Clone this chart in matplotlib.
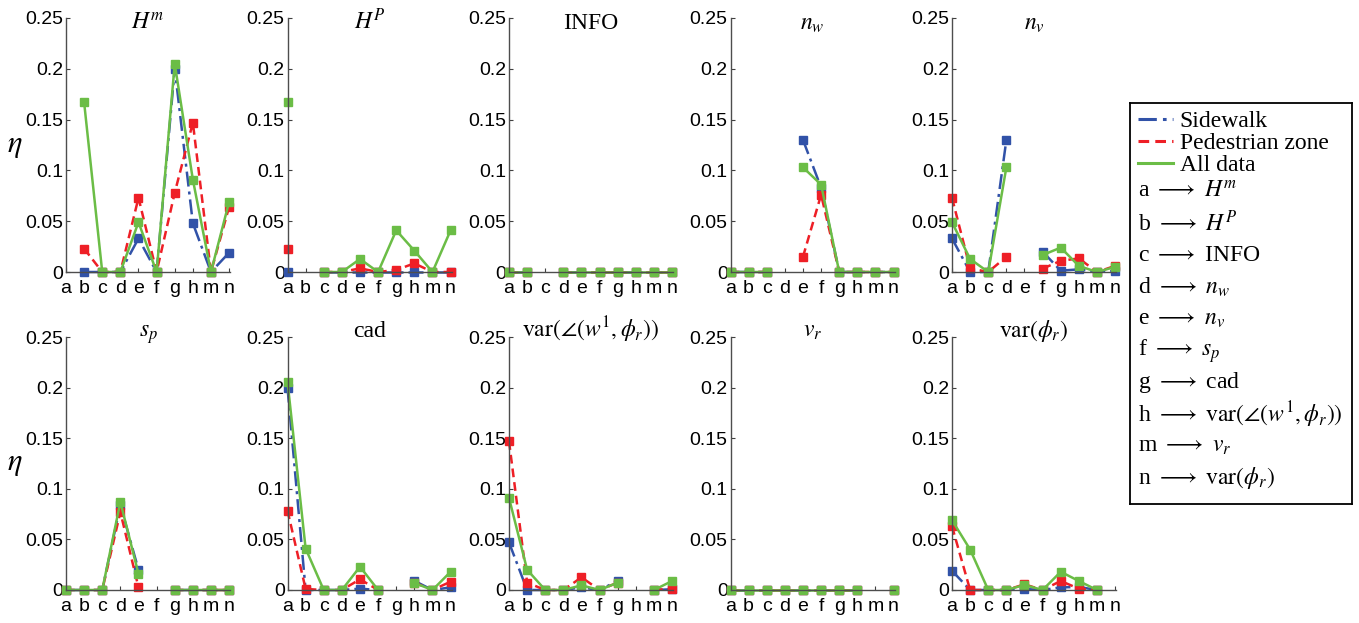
import numpy as np
import matplotlib
matplotlib.use('Agg')
import matplotlib.pyplot as plt
from matplotlib.lines import Line2D
from matplotlib.ticker import FixedLocator, FixedFormatter

plt.rcParams['font.family'] = ['Liberation Sans', 'DejaVu Sans']
plt.rcParams['mathtext.fontset'] = 'stix'

# categories (x axis) and the feature each panel is about
cats = ['a', 'b', 'c', 'd', 'e', 'f', 'g', 'h', 'm', 'n']
titles = [r'$H^m$', r'$H^P$', 'INFO', r'$n_w$', r'$n_v$',
          r'$s_p$', 'cad', r'$\mathrm{var}(\angle(w^1,\phi_r))$', r'$v_r$',
          r'$\mathrm{var}(\phi_r)$']
map_labels = [c + ' $\\longrightarrow$ ' + t for c, t in zip(cats, titles)]

nan = np.nan
# eta values, one row per panel (nan = the panel's own feature)
sidewalk = [
    [nan, 0, 0, 0, 0.033, 0, 0.200, 0.048, 0, 0.019],
    [0, nan, 0, 0, 0, 0, 0, 0, 0, 0],
    [0, 0, nan, 0, 0, 0, 0, 0, 0, 0],
    [0, 0, 0, nan, 0.130, 0.083, 0, 0, 0, 0],
    [0.033, 0, 0, 0.130, nan, 0.020, 0.0013, 0.0026, 0, 0.001],
    [0, 0, 0, 0.084, 0.020, nan, 0, 0, 0, 0],
    [0.200, 0, 0, 0, 0.0013, 0, nan, 0.009, 0, 0.0026],
    [0.047, 0, 0, 0, 0.0026, 0, 0.009, nan, 0, 0.0007],
    [0, 0, 0, 0, 0, 0, 0, 0, nan, 0],
    [0.019, 0, 0, 0, 0.001, 0, 0.0026, 0.003, 0, nan],
]
pedestrian = [
    [nan, 0.023, 0, 0, 0.073, 0, 0.078, 0.147, 0, 0.064],
    [0.023, nan, 0, 0, 0.0036, 0, 0.002, 0.0085, 0, 0],
    [0, 0, nan, 0, 0, 0, 0, 0, 0, 0],
    [0, 0, 0, nan, 0.015, 0.076, 0, 0, 0, 0],
    [0.073, 0.0036, 0, 0.015, nan, 0.0033, 0.011, 0.0134, 0, 0.006],
    [0, 0, 0, 0.077, 0.0026, nan, 0, 0, 0, 0],
    [0.0785, 0.001, 0, 0, 0.0106, 0, nan, 0.0073, 0, 0.0082],
    [0.147, 0.0073, 0, 0, 0.0125, 0, 0.0073, nan, 0, 0.0013],
    [0, 0, 0, 0, 0, 0, 0, 0, nan, 0],
    [0.063, 0, 0, 0, 0.0056, 0, 0.0089, 0.0013, 0, nan],
]
all_data = [
    [nan, 0.167, 0, 0, 0.049, 0, 0.205, 0.091, 0, 0.069],
    [0.167, nan, 0, 0, 0.0128, 0, 0.041, 0.021, 0, 0.041],
    [0, 0, nan, 0, 0, 0, 0, 0, 0, 0],
    [0, 0, 0, nan, 0.103, 0.086, 0, 0, 0, 0],
    [0.049, 0.0128, 0, 0.103, nan, 0.0167, 0.024, 0.006, 0, 0.005],
    [0, 0, 0, 0.087, 0.016, nan, 0, 0, 0, 0],
    [0.206, 0.041, 0, 0, 0.023, 0, nan, 0.007, 0, 0.018],
    [0.091, 0.020, 0, 0, 0.0046, 0, 0.0073, nan, 0, 0.0089],
    [0, 0, 0, 0, 0, 0, 0, 0, nan, 0],
    [0.069, 0.040, 0, 0, 0.005, 0, 0.018, 0.0089, 0, nan],
]

series = [
    ('Sidewalk', sidewalk, '#3152a8', (0, (6.0, 2.0, 1.2, 2.0))),
    ('Pedestrian zone', pedestrian, '#ee1f26', (0, (3.5, 2.0))),
    ('All data', all_data, '#6bbd46', '-'),
]

W, H = 1359, 623
fig = plt.figure(figsize=(W / 100, H / 100), dpi=100)

x = np.arange(1, len(cats) + 1)
yticks = [0, 0.05, 0.1, 0.15, 0.2, 0.25]
ytick_labels = ['0', '0.05', '0.1', '0.15', '0.2', '0.25']

for k in range(10):
    row, col = divmod(k, 5)
    left = 66 + col * 221.5
    if row == 0:
        bottom, height = 272, 254
    else:
        bottom, height = 590, 253
    ax = fig.add_axes([left / W, 1 - bottom / H, 164 / W, height / H])

    for name, data, color, ls in series:
        ax.plot(x, data[k], color=color, ls=ls, lw=1.8, marker='s',
                markersize=6, markeredgecolor=color, clip_on=False,
                label=name)

    ax.set_xlim(1, 10.05)
    ax.set_ylim(0, 0.25)
    ax.xaxis.set_major_locator(FixedLocator(x))
    ax.xaxis.set_major_formatter(FixedFormatter(cats))
    ax.yaxis.set_major_locator(FixedLocator(yticks))
    ax.yaxis.set_major_formatter(FixedFormatter(ytick_labels))
    ax.tick_params(direction='in', length=3, width=0.8, labelsize=14,
                   colors='0.25', labelcolor='black')
    ax.tick_params(axis='x', pad=6)
    ax.tick_params(axis='y', pad=2)
    for side in ['top', 'right']:
        ax.spines[side].set_visible(False)
    for side in ['left', 'bottom']:
        ax.spines[side].set_color('0.3')
        ax.spines[side].set_linewidth(1.0)

    ty = 0.955 if row == 0 else 1.0
    ax.text(0.5, ty, titles[k], transform=ax.transAxes, ha='center',
            va='baseline', fontsize=17, family='Liberation Serif')

    if col == 0:
        ax.set_ylabel(r'$\eta$', rotation=0, fontsize=22, va='center')
        ax.yaxis.set_label_coords(-0.31, 0.5)

# legend box with series lines and the letter mapping
lx0, lx1, ly0, ly1 = 1130, 1352, 103, 504
lax = fig.add_axes([lx0 / W, 1 - ly1 / H, (lx1 - lx0) / W, (ly1 - ly0) / H])
lax.set_xlim(0, 1)
lax.set_ylim(0, 1)
lax.set_xticks([])
lax.set_yticks([])
for s in lax.spines.values():
    s.set_linewidth(1.3)
    s.set_color('black')

handles = [Line2D([], [], color=c, ls=ls, lw=2.2) for _, _, c, ls in series]
labels = [name for name, _, _, _ in series]
leg = lax.legend(handles, labels, loc='upper left', bbox_to_anchor=(-0.005, 1.005),
                 frameon=False, handlelength=1.45, handletextpad=0.3,
                 labelspacing=0.02, borderaxespad=0.0,
                 prop={'family': 'Liberation Serif', 'size': 17})

for i, lab in enumerate(map_labels):
    py = 192 + i * 31.8
    lax.text(8 / (lx1 - lx0), (ly1 - py) / (ly1 - ly0), lab, ha='left',
             va='center', fontsize=17, family='Liberation Serif')

fig.savefig('out.png', dpi=100)
